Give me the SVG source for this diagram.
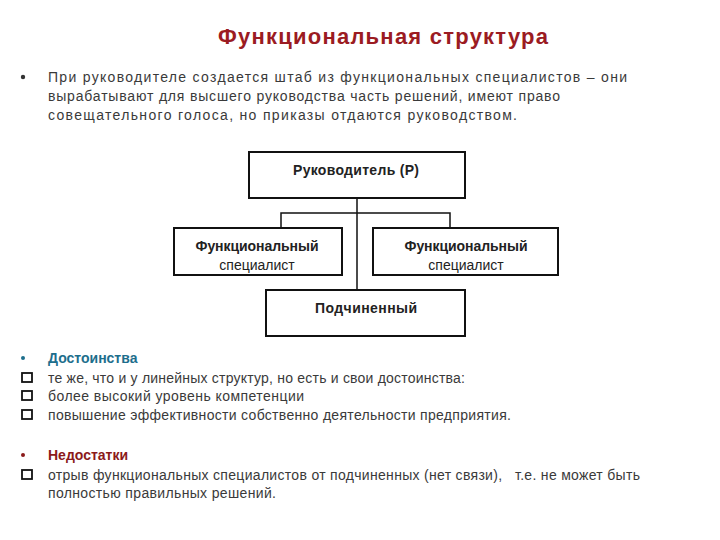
<svg xmlns="http://www.w3.org/2000/svg" width="720" height="540" viewBox="0 0 720 540">
<style>
.t{font-family:"Liberation Sans","DejaVu Sans",sans-serif;font-size:14px;fill:#3a3a3a}
.box{fill:#fff;stroke:#111;stroke-width:2}
.bt{font-family:"Liberation Sans","DejaVu Sans",sans-serif;font-size:14px;font-weight:bold;fill:#222;text-anchor:middle}
.bn{font-family:"Liberation Sans","DejaVu Sans",sans-serif;font-size:14px;fill:#222;text-anchor:middle}
.ln{fill:none;stroke:#111;stroke-width:1.5}
.cb{fill:#fff;stroke:#111;stroke-width:1.8}
</style>
<rect width="720" height="540" fill="#fff"/>
<text x="383" y="44" text-anchor="middle" font-family="Liberation Sans,DejaVu Sans,sans-serif" font-size="22" font-weight="bold" fill="#9b1b22" textLength="330">Функциональная структура</text>
<circle cx="23" cy="77" r="2.2" fill="#333"/>
<text class="t" x="48" y="82" textLength="579">При руководителе создается штаб из функциональных специалистов – они</text>
<text class="t" x="48" y="101" textLength="512">вырабатывают для высшего руководства часть решений, имеют право</text>
<text class="t" x="48" y="120" textLength="469">совещательного голоса, но приказы отдаются руководством.</text>
<g id="connectors">
<path class="ln" d="M357 198 V290 M281 228 V213 H450 V228"/>
</g>
<g id="node-head"><rect class="box" x="249" y="152" width="216" height="46"/><text class="bt" x="356" y="175" textLength="126">Руководитель (Р)</text></g>
<g id="node-spec1"><rect class="box" x="174" y="228" width="168" height="47"/><text class="bt" x="257" y="251" textLength="123">Функциональный</text><text class="bn" x="257" y="270">специалист</text></g>
<g id="node-spec2"><rect class="box" x="373" y="228" width="185" height="47"/><text class="bt" x="466" y="251" textLength="123">Функциональный</text><text class="bn" x="466" y="270">специалист</text></g>
<g id="node-sub"><rect class="box" x="266" y="290" width="199" height="46"/><text class="bt" x="366" y="313" textLength="102">Подчиненный</text></g>
<circle cx="23" cy="358" r="2" fill="#1d6e8c"/>
<text x="48" y="363" font-family="Liberation Sans,DejaVu Sans,sans-serif" font-size="14" font-weight="bold" fill="#1d6e8c">Достоинства</text>
<rect class="cb" x="22" y="373" width="10" height="9"/>
<text class="t" x="48" y="383" textLength="417">те же, что и у линейных структур, но есть и свои достоинства:</text>
<rect class="cb" x="22" y="391" width="10" height="9"/>
<text class="t" x="48" y="401" textLength="256">более высокий уровень компетенции</text>
<rect class="cb" x="22" y="410" width="10" height="9"/>
<text class="t" x="48" y="420" textLength="463">повышение эффективности собственно деятельности предприятия.</text>
<circle cx="23" cy="455" r="2" fill="#8b1a1a"/>
<text x="48" y="460" font-family="Liberation Sans,DejaVu Sans,sans-serif" font-size="14" font-weight="bold" fill="#8b1a1a">Недостатки</text>
<rect class="cb" x="22" y="470" width="10" height="9"/>
<text class="t" x="48" y="480" textLength="592" xml:space="preserve">отрыв функциональных специалистов от подчиненных (нет связи),   т.е. не может быть</text>
<text class="t" x="48" y="498" textLength="228">полностью правильных решений.</text>
</svg>
